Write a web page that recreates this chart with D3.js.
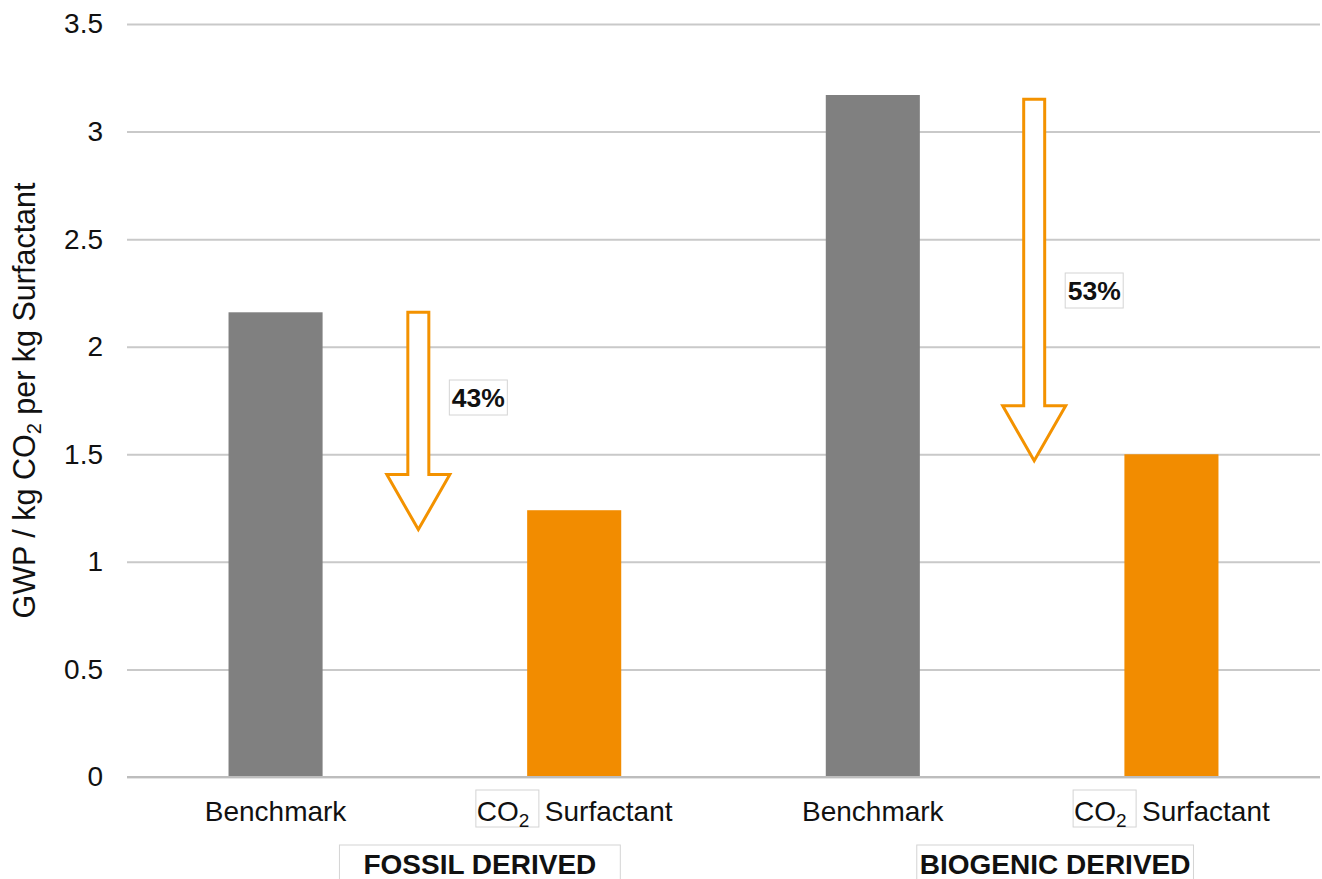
<!DOCTYPE html>
<html>
<head>
<meta charset="utf-8">
<script src="https://cdn.jsdelivr.net/npm/d3@7"></script>
<style>
  html, body { margin: 0; padding: 0; background: #fff; }
  svg { display: block; font-family: "Liberation Sans", Arial, sans-serif; }
</style>
</head>
<body>
<svg id="chart" width="1322" height="879"></svg>
<script>
// Global warming potential per kg of surfactant
const categories = ["fossil-bench", "fossil-co2", "bio-bench", "bio-co2"];
const categoryKinds = ["Benchmark", "CO2", "Benchmark", "CO2"];
const values = [2.16, 1.24, 3.17, 1.50];
const barColors = ["#808080", "#f28c00", "#808080", "#f28c00"];
const yTicks = [0, 0.5, 1, 1.5, 2, 2.5, 3, 3.5];
const groupLabels = ["FOSSIL DERIVED", "BIOGENIC DERIVED"];
// reduction arrows: start value, tip value, label
const arrowFrom = [2.16, 3.15];
const arrowTo = [1.15, 1.47];
const arrowLabels = ["43%", "53%"];

const svg = d3.select("#chart");
const margin = { left: 127, right: 2, top: 24, bottom: 102 };
const W = 1322, H = 879;
const FS = 28;

const x = d3.scaleBand().domain(categories)
  .range([margin.left, W - margin.right])
  .paddingInner(0.685).paddingOuter(0.34);
const y = d3.scaleLinear().domain([0, 3.5]).range([H - margin.bottom, margin.top]);

// gridlines and tick labels
const yAxis = d3.axisLeft(y).tickValues(yTicks)
  .tickSize(-(W - margin.right - margin.left))
  .tickPadding(24)
  .tickFormat(d => d3.format("")(d));
const gy = svg.append("g").attr("transform", `translate(${margin.left},0)`).call(yAxis);
gy.attr("font-size", FS).attr("font-family", null);
gy.select(".domain").remove();
gy.selectAll(".tick line").attr("stroke", "#c9c9c9").attr("stroke-width", 2);
gy.selectAll(".tick text").attr("fill", "#111");

// bars
svg.append("g").selectAll("rect").data(values).join("rect")
  .attr("x", (d, i) => x(categories[i]))
  .attr("width", x.bandwidth())
  .attr("y", d => y(d))
  .attr("height", d => y(0) - y(d))
  .attr("fill", (d, i) => barColors[i]);

// baseline over the bars
svg.append("line")
  .attr("x1", margin.left).attr("x2", W - margin.right)
  .attr("y1", y(0)).attr("y2", y(0))
  .attr("stroke", "#bdbdbd").attr("stroke-width", 2);

// y-axis title
const yt = svg.append("text")
  .attr("transform", `translate(35,${(y(0) + y(3.5)) / 2}) rotate(-90)`)
  .attr("text-anchor", "middle").attr("font-size", 30.5).attr("fill", "#111");
yt.append("tspan").text("GWP / kg CO");
yt.append("tspan").attr("font-size", 20).attr("dy", 6).text("2");
yt.append("tspan").attr("dy", -6).text(" per kg Surfactant");

// category labels
const labelY = 821;
const labels = svg.append("g");
categories.forEach((c, i) => {
  const cx = x(c) + x.bandwidth() / 2;
  if (categoryKinds[i] === "Benchmark") {
    labels.append("text").attr("x", cx).attr("y", labelY)
      .attr("text-anchor", "middle").attr("font-size", FS).attr("fill", "#111")
      .text("Benchmark");
  } else {
    const g = labels.append("g");
    const box = g.append("rect").attr("y", 790).attr("width", 63).attr("height", 37)
      .attr("fill", "#fff").attr("stroke", "#d4d4d4").attr("stroke-width", 1);
    const t = g.append("text").attr("y", labelY).attr("font-size", FS).attr("fill", "#111");
    t.append("tspan").text("CO");
    t.append("tspan").attr("font-size", 19).attr("dy", 6).text("2");
    const s = g.append("text").attr("y", labelY)
      .attr("font-size", FS).attr("fill", "#111").text("Surfactant");
    const sw = s.node().getComputedTextLength();
    const total = 63 + 6 + sw;
    const left = cx - total / 2;
    box.attr("x", left);
    t.attr("x", left + 1);
    s.attr("x", left + 69);
  }
});

// group labels, each in a thin box
const groupShift = [55, 33];
const groupPad = [24, 3];
groupLabels.forEach((lab, gi) => {
  const a = x(categories[gi * 2]) + x.bandwidth() / 2;
  const b = x(categories[gi * 2 + 1]) + x.bandwidth() / 2;
  const cx = (a + b) / 2 + groupShift[gi];
  const g = svg.append("g");
  const box = g.append("rect");
  const t = g.append("text").attr("x", cx).attr("y", 874)
    .attr("text-anchor", "middle").attr("font-size", FS).attr("font-weight", "bold")
    .attr("fill", "#111").text(lab);
  const w = t.node().getComputedTextLength();
  box.attr("x", cx - w / 2 - groupPad[gi]).attr("y", 845)
    .attr("width", w + 2 * groupPad[gi]).attr("height", 40)
    .attr("fill", "#fff").attr("stroke", "#d4d4d4").attr("stroke-width", 1);
});

// reduction arrows
const shaftHalf = 10.5, headHalf = 31.5, headLen = 55;
const arrowShift = [0.468, 0.559];
const labelTop = [380, 273];
arrowFrom.forEach((v0, i) => {
  const benchX = x(categories[i * 2]) + x.bandwidth();
  const nextX = x(categories[i * 2 + 1]);
  const cx = benchX + (nextX - benchX) * arrowShift[i];
  const y0 = y(v0), y1 = y(arrowTo[i]);
  const yh = y1 - headLen;
  const pts = [
    [cx - shaftHalf, y0], [cx + shaftHalf, y0], [cx + shaftHalf, yh],
    [cx + headHalf, yh], [cx, y1], [cx - headHalf, yh], [cx - shaftHalf, yh]
  ];
  svg.append("path")
    .attr("d", d3.line()(pts) + "Z")
    .attr("fill", "#fff").attr("stroke", "#f39200").attr("stroke-width", 3)
    .attr("stroke-linejoin", "miter");

  // percentage label in a thin box
  const bx = cx + 31;
  const g = svg.append("g");
  g.append("rect").attr("x", bx).attr("y", labelTop[i]).attr("width", 58).attr("height", 35)
    .attr("fill", "#fff").attr("stroke", "#d4d4d4").attr("stroke-width", 1);
  g.append("text").attr("x", bx + 29).attr("y", labelTop[i] + 27)
    .attr("text-anchor", "middle").attr("font-size", 26.5).attr("font-weight", "bold")
    .attr("fill", "#111").text(arrowLabels[i]);
});
</script>
</body>
</html>
